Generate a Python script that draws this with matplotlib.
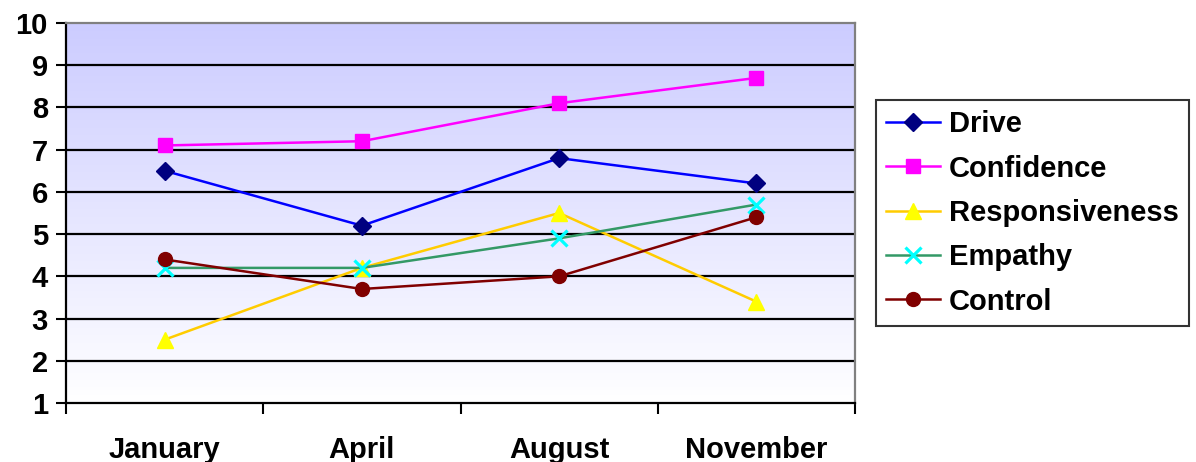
import numpy as np
import matplotlib
matplotlib.use("Agg")
import matplotlib.pyplot as plt
from matplotlib.colors import LinearSegmentedColormap

plt.rcParams['font.family'] = ['Liberation Sans', 'DejaVu Sans']
plt.rcParams['font.weight'] = 'bold'

months = ["January", "April", "August", "November"]
drive = [6.5, 5.2, 6.8, 6.2]
confidence = [7.1, 7.2, 8.1, 8.7]
responsiveness = [2.5, 4.2, 5.5, 3.4]
empathy = [4.2, 4.2, 4.9, 5.7]
control = [4.4, 3.7, 4.0, 5.4]
y_ticks = list(range(1, 11))

series = [
    ("Drive", drive, "#0000FF", "D", "#000080", 9),
    ("Confidence", confidence, "#FF00FF", "s", "#FF00FF", 10),
    ("Responsiveness", responsiveness, "#FFCC00", "^", "#FFFF00", 12),
    ("Empathy", empathy, "#339966", "x", "#00FFFF", 12),
    ("Control", control, "#800000", "o", "#800000", 10),
]

FS = 21

fig = plt.figure(figsize=(11.96, 4.62), dpi=100)
ax = fig.add_axes([0.0552, 0.1277, 0.6597, 0.8225])

n = len(months)
x = np.arange(n) + 0.5
ax.set_xlim(0, n)
ax.set_ylim(1, 10)

# vertical gradient background: lavender at the top fading to white
cmap = LinearSegmentedColormap.from_list("bg", ["#FFFFFF", "#CCCCFF"])
grad = np.linspace(0, 1, 256).reshape(-1, 1)
ax.imshow(grad, cmap=cmap, aspect="auto", extent=(0, n, 1, 10),
          origin="lower", zorder=0, interpolation="bicubic")

for yv in y_ticks[1:-1]:
    ax.axhline(yv, color="black", lw=1.6, zorder=1)

for name, vals, lc, mk, mc, ms in series:
    if mk == "x":
        ax.plot(x, vals, color=lc, lw=1.8, marker=mk, ms=ms, mec=mc,
                mew=2.3, label=name, zorder=3)
    else:
        ax.plot(x, vals, color=lc, lw=1.8, marker=mk, ms=ms, mfc=mc,
                mec=mc, label=name, zorder=3)

ax.set_yticks(y_ticks)
ax.set_yticklabels([str(v) for v in y_ticks], fontsize=FS, fontweight="bold")
ax.set_xticks(np.arange(n + 1))
ax.set_xticklabels([])
ax.set_xticks(x, minor=True)
ax.set_xticklabels(months, minor=True, fontsize=FS, fontweight="bold")
ax.tick_params(axis="x", which="major", length=8, width=1.5, direction="out")
ax.tick_params(axis="x", which="minor", length=0, pad=24)
ax.tick_params(axis="y", length=7, width=1.5, direction="out", pad=6)

for side in ("left", "bottom"):
    ax.spines[side].set_color("black")
    ax.spines[side].set_linewidth(1.6)
for side in ("top", "right"):
    ax.spines[side].set_color("#808080")
    ax.spines[side].set_linewidth(1.6)

leg = fig.legend(loc="upper left", bbox_to_anchor=(0.7324, 0.7835),
                 frameon=True, fancybox=False, handlelength=1.85,
                 labelspacing=0.56, borderpad=0.35, handletextpad=0.3,
                 borderaxespad=0.0,
                 prop={"weight": "bold", "size": FS})
leg.get_frame().set_edgecolor("black")
leg.get_frame().set_linewidth(1.5)

fig.savefig("out.png", dpi=100)
